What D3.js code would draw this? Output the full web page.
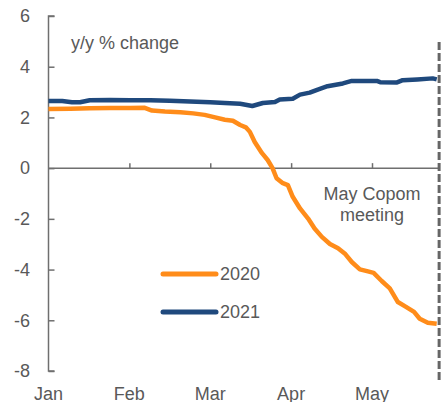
<!DOCTYPE html>
<html><head><meta charset="utf-8">
<script src="https://cdn.jsdelivr.net/npm/d3@7"></script>
<style>body{margin:0;background:#fff}svg{display:block;font-family:"Liberation Sans",Arial,sans-serif}</style>
</head><body><svg id="c" width="444" height="402"></svg>
<script>
const monthLabels = ["Jan","Feb","Mar","Apr","May"];
const yTicks = [6,4,2,0,-2,-4,-6,-8];
const x2020 = [0,0.27,0.51,0.76,1.01,1.19,1.28,1.44,1.63,1.79,1.93,2.06,2.18,2.28,2.37,2.44,2.49,2.55,2.64,2.71,2.77,2.82,2.89,2.96,3.02,3.11,3.21,3.29,3.38,3.48,3.58,3.67,3.75,3.85,3.95,4.02,4.12,4.22,4.32,4.42,4.52,4.59,4.69,4.80];
const v2020 = [2.33,2.34,2.36,2.37,2.37,2.38,2.27,2.23,2.20,2.16,2.10,2.00,1.91,1.87,1.70,1.61,1.43,1.03,0.59,0.32,0.0,-0.40,-0.58,-0.67,-1.13,-1.59,-1.99,-2.38,-2.71,-2.99,-3.16,-3.39,-3.70,-3.99,-4.07,-4.13,-4.45,-4.74,-5.28,-5.47,-5.67,-5.94,-6.10,-6.14];
const x2021 = [0,0.17,0.29,0.39,0.51,0.76,1.01,1.26,1.50,1.75,2.00,2.18,2.37,2.52,2.65,2.80,2.86,3.02,3.11,3.23,3.33,3.45,3.64,3.75,3.91,4.06,4.10,4.31,4.38,4.56,4.75,4.80];
const v2021 = [2.65,2.65,2.60,2.60,2.68,2.69,2.68,2.68,2.66,2.63,2.60,2.57,2.54,2.45,2.57,2.61,2.71,2.74,2.90,2.98,3.10,3.23,3.34,3.44,3.44,3.44,3.39,3.38,3.47,3.50,3.54,3.50];
const seriesNames = ["2020","2021"];
const copomX = 4.83;
const annotation = ["May Copom","meeting"];
const yLabel = "y/y % change";

const svg = d3.select("#c");
const x = d3.scaleLinear().domain([0,4]).range([48.5,372]);
const y = d3.scaleLinear().domain([-8,6]).range([371,16]);
const grey = "#6f6f6f", txt = "#595959";
const colors = {"2020":"#FF8C1A","2021":"#1F497D"};

// y axis
const ya = svg.append("g").attr("transform",`translate(${x(0)},0)`)
  .call(d3.axisRight(y).tickValues(yTicks).tickSize(6).tickFormat(""));
ya.select(".domain").attr("stroke",grey).attr("stroke-width",1.5).attr("d",`M6,${y(6)}H0V${y(-8)}H6`);
ya.selectAll(".tick line").attr("stroke",grey).attr("stroke-width",1.5);
svg.append("g").selectAll("text").data(yTicks).join("text")
  .attr("x",30).attr("y",d=>y(d)).attr("dy","0.35em").attr("text-anchor","end")
  .attr("font-size",18).attr("fill",txt).text(d=>d);

// zero line axis
const xa = svg.append("g").attr("transform",`translate(0,${y(0)})`)
  .call(d3.axisTop(x).tickValues([1,2,3,4]).tickSize(5).tickFormat(""));
xa.select(".domain").attr("stroke",grey).attr("stroke-width",1.5).attr("d",`M${x(0)},0H${x(copomX)}`);
xa.selectAll(".tick line").attr("stroke",grey).attr("stroke-width",1.5);
svg.append("g").selectAll("text").data(monthLabels).join("text")
  .attr("x",(d,i)=>x(i)).attr("y",400).attr("text-anchor","middle")
  .attr("font-size",18).attr("fill",txt).text(d=>d);

// copom dashed line
svg.append("line").attr("x1",x(copomX)).attr("x2",x(copomX)).attr("y1",42).attr("y2",383)
  .attr("stroke","#666").attr("stroke-width",3).attr("stroke-dasharray","8,3");

// lines
const line = d3.line().x(d=>x(d[0])).y(d=>y(d[1]));
const data = {"2020":x2020.map((v,i)=>[v,v2020[i]]),"2021":x2021.map((v,i)=>[v,v2021[i]])};
seriesNames.forEach(s=>{
  svg.append("path").attr("d",line(data[s])).attr("fill","none")
    .attr("stroke",colors[s]).attr("stroke-width",4.5).attr("stroke-linejoin","round");
});

// legend
seriesNames.forEach((s,i)=>{
  const ly = 274 + i*38;
  svg.append("line").attr("x1",163).attr("x2",216).attr("y1",ly).attr("y2",ly)
    .attr("stroke",colors[s]).attr("stroke-width",5).attr("stroke-linecap","round");
  svg.append("text").attr("x",220).attr("y",ly).attr("dy","0.35em")
    .attr("font-size",18).attr("fill",txt).text(s);
});

// texts
svg.append("text").attr("x",71).attr("y",49).attr("font-size",18).attr("fill",txt).text(yLabel);
svg.append("text").attr("x",x(4)).attr("y",200).attr("text-anchor","middle")
  .attr("font-size",18).attr("fill",txt)
  .selectAll("tspan").data(annotation).join("tspan")
  .attr("x",x(4)).attr("dy",(d,i)=>i?21:0).text(d=>d);
</script></body></html>
